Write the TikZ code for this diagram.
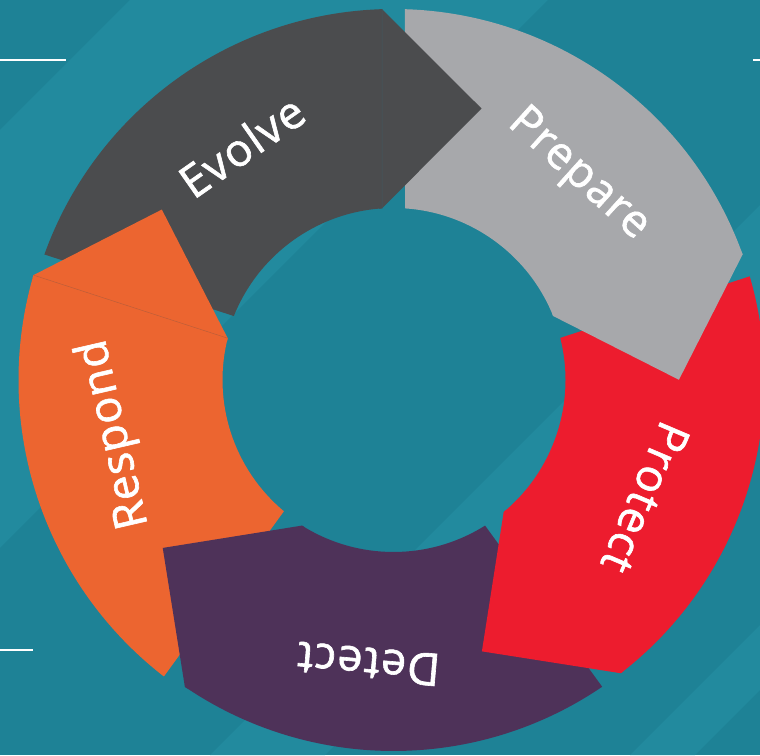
\documentclass[tikz,border=0pt]{standalone}
\usepackage{fontspec}
\setmainfont{Open Sans}
\newfontfamily\phasefont{Open Sans}[FakeBold=1.4, LetterSpace=3]
\usetikzlibrary{calc}

\definecolor{bgteal}{RGB}{30,130,150}
\definecolor{bandteal}{RGB}{34,138,158}
\definecolor{evolvegrey}{RGB}{75,76,78}
\definecolor{preparegrey}{RGB}{167,168,171}
\definecolor{protectred}{RGB}{237,28,46}
\definecolor{detectpurple}{RGB}{78,50,89}
\definecolor{respondorange}{RGB}{236,101,48}

% half of the gap between two neighbouring segments
\def\gap{11.5}

% body of one ring segment: #1 colour, #2 start angle, #3 inner radius, #4 outer radius
\newcommand{\segbody}[4]{%
  \pgfmathsetmacro{\angin}{asin(\gap/#3)}%
  \pgfmathsetmacro{\angout}{asin(\gap/#4)}%
  \pgfmathsetmacro{\sa}{#2}%
  \pgfmathsetmacro{\ea}{#2-72}%
  \fill[#1] (\sa-\angin:#3) -- (\sa-\angout:#4)
    arc[start angle=\sa-\angout, end angle=\ea+\angout, radius=#4]
    -- (\ea+\angin:#3)
    arc[start angle=\ea+\angin, end angle=\sa-\angin, radius=#3] -- cycle;
}

% arrow head at the clockwise end of a segment (reaching slightly back
% into the body so that no seam shows)
\newcommand{\seghead}[4]{%
  \pgfmathsetmacro{\angin}{asin(\gap/#3)}%
  \pgfmathsetmacro{\angout}{asin(\gap/#4)}%
  \pgfmathsetmacro{\ea}{#2-72}%
  \pgfmathsetmacro{\midr}{(#3+#4)/2}%
  \pgfmathsetmacro{\reach}{(#4-#3)/2-\gap}%
  \fill[#1] (\ea+\angin+1:#3) -- (\ea+\angout+0.5:#4) -- (\ea+\angout:#4)
    -- ($(\ea:\midr)+(\ea-90:\reach)$) -- (\ea+\angin:#3) -- cycle;
}

% thin seam along the base of an arrow head
\newcommand{\segseam}[4]{%
  \pgfmathsetmacro{\angin}{asin(\gap/#3)}%
  \pgfmathsetmacro{\angout}{asin(\gap/#4)}%
  \pgfmathsetmacro{\ea}{#2-72}%
  \draw[#1, line width=0.5pt] (\ea+\angin:#3) -- (\ea+\angout:#4);
}

\tikzset{
  phase/.style={text=white, font=\phasefont\fontsize{45}{50}\selectfont,
    inner sep=0pt, anchor=center},
  rule/.style={white, line width=1.5pt}
}

\begin{document}
\begin{tikzpicture}[x=1pt,y=1pt]
  \useasboundingbox (0,0) rectangle (760,755);
  \begin{scope}
    \clip (0,0) rectangle (760,755);
    \fill[bgteal] (0,0) rectangle (760,755);
    % faint diagonal stripes of the backdrop
    \foreach \da/\db in {-625/-207, 210/325, 630/695}{
      \fill[bandteal] (\da,0) -- (\da+755,755) -- (\db+755,755) -- (\db,0) -- cycle;
    }
  \end{scope}

  % short white rules at the margins
  \coordinate (tl1) at (0,695);   \coordinate (tl2) at (66,695);
  \coordinate (tr1) at (753,695); \coordinate (tr2) at (760,695);
  \coordinate (bl1) at (0,105);   \coordinate (bl2) at (33,105);
  \draw[rule] (tl1) -- (tl2);
  \draw[rule] (tr1) -- (tr2);
  \draw[rule] (bl1) -- (bl2);

  \begin{scope}[shift={(393.5,375)}]
    % segment bodies
    \segbody{preparegrey}{90}{172}{371}
    \segbody{protectred}{18}{172}{371}
    \segbody{detectpurple}{-54}{172}{371}
    \segbody{respondorange}{-126}{171}{375}
    \segbody{evolvegrey}{162}{172}{371}
    % arrow heads pointing clockwise
    \seghead{preparegrey}{90}{172}{371}
    \seghead{protectred}{18}{172}{371}
    \seghead{detectpurple}{-54}{172}{371}
    \seghead{respondorange}{-126}{171}{375}
    \seghead{evolvegrey}{162}{172}{371}
    % visible joins on two of the segments
    \segseam{respondorange!70!evolvegrey}{-126}{171}{375}
    \segseam{evolvegrey!75!bgteal}{162}{172}{371}

    % labels
    \node[phase, rotate=-42]  (prepare) at (48:276)   {Prepare};
    \node[phase, rotate=-113] (protect) at (-25:278)  {Protect};
    \node[phase, rotate=175]  (detect)  at (-95:285)  {Detect};
    \node[phase, rotate=103]  (respond) at (191:284)  {Respond};
    \node[phase, rotate=35]   (evolve)  at (123:279)  {Evolve};
  \end{scope}
\end{tikzpicture}
\end{document}
